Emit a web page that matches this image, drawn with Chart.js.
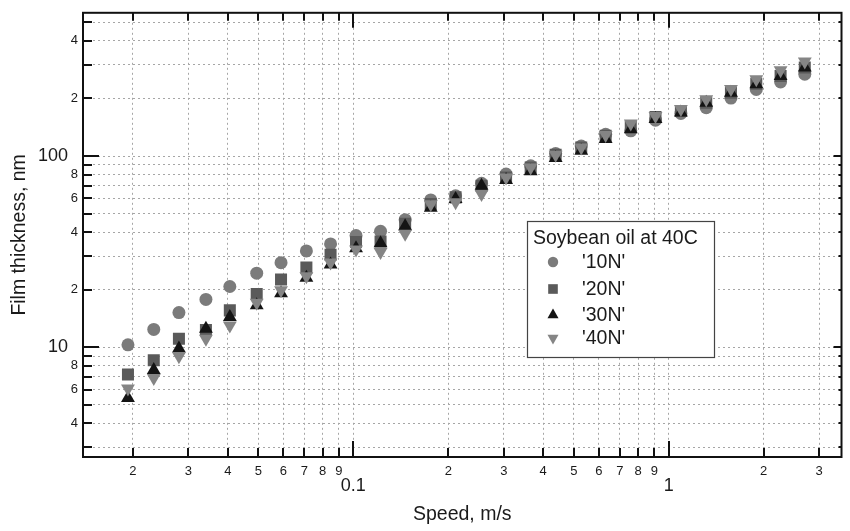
<!DOCTYPE html>
<html>
<head>
<meta charset="utf-8">
<script src="https://cdn.jsdelivr.net/npm/chart.js@4.4.1/dist/chart.umd.min.js"></script>
<style>
  html, body { margin: 0; padding: 0; background: #fff; }
</style>
</head>
<body>
<canvas id="film" width="850" height="531"></canvas>
<script>
// sliding speed, m/s
const speed = [0.0193, 0.0233, 0.0280, 0.0341, 0.0406, 0.0494, 0.0590, 0.0710, 0.0847, 0.102,
  0.122, 0.146, 0.176, 0.211, 0.255, 0.305, 0.365, 0.438, 0.528, 0.631,
  0.758, 0.908, 1.093, 1.315, 1.575, 1.895, 2.263, 2.70];

// film thickness, nm
const film10N = [10.3, 12.4, 15.2, 17.8, 20.8, 24.4, 27.7, 31.9, 34.7, 38.4,
  40.4, 46.5, 59, 62, 72, 80.5, 89, 103, 112.7, 130,
  135.5, 154, 167, 179, 201, 223, 244, 268];
const film20N = [7.2, 8.55, 11.1, 12.3, 15.6, 19.0, 22.6, 26.1, 30.5, 35.5,
  35.7, 44.2, 56.2, 60.8, 70.0, 77.3, 87.2, 101.6, 110.9, 127.7,
  142, 160, 172, 190, 214, 239, 262, 290];
const film30N = [5.44, 7.6, 9.85, 12.5, 14.4, 16.6, 19.2, 23.1, 27.1, 33,
  35, 43, 53.6, 59.6, 70.0, 74.9, 83.2, 97.6, 106.6, 122.7,
  138, 156, 169, 190, 214, 237, 262, 290];
const film40N = [6.09, 6.92, 8.98, 11.1, 13.0, 17.1, 19.9, 23.5, 27.8, 32.5,
  31.5, 39.2, 56, 57.3, 63.4, 77.3, 87.2, 101.6, 110.9, 129,
  148, 162, 176, 198, 224, 252, 281, 312];

const seriesNames = ["'10N'", "'20N'", "'30N'", "'40N'"];
const legendTitle = "Soybean oil at 40C";

const xTicks = [0.02, 0.03, 0.04, 0.05, 0.06, 0.07, 0.08, 0.09, 0.1,
  0.2, 0.3, 0.4, 0.5, 0.6, 0.7, 0.8, 0.9, 1, 2, 3];
const xTickLabels = ['2', '3', '4', '5', '6', '7', '8', '9', '0.1',
  '2', '3', '4', '5', '6', '7', '8', '9', '1', '2', '3'];
const yTicks = [3, 4, 5, 6, 7, 8, 9, 10, 20, 30, 40, 50, 60, 70, 80, 90, 100, 200, 300, 400, 500];
const yTickLabels = ['', '4', '', '6', '', '8', '', '10', '2', '', '4', '', '6', '', '8', '',
  '100', '2', '', '4', ''];

const FONT = "'Liberation Sans', Arial, Helvetica, sans-serif";

function isDecade(v) {
  const l = Math.log10(v);
  return Math.abs(l - Math.round(l)) < 1e-9;
}

function points(ys) {
  return speed.map((s, i) => ({ x: s, y: ys[i] }));
}

const styles = [
  { pointStyle: 'circle', color: '#7b7b7b', radius: 6.5, rotation: 0 },
  { pointStyle: 'rect', color: '#5a5a5a', radius: 8.5, rotation: 0 },
  { pointStyle: 'triangle', color: '#141414', radius: 8, rotation: 0 },
  { pointStyle: 'triangle', color: '#858585', radius: 8, rotation: 180 },
];

const datasets = [film10N, film20N, film30N, film40N].map((ys, i) => ({
  label: seriesNames[i],
  data: points(ys),
  pointStyle: styles[i].pointStyle,
  pointRadius: styles[i].radius,
  pointRotation: styles[i].rotation,
  backgroundColor: styles[i].color,
  borderColor: styles[i].color,
  borderWidth: 0,
  showLine: false,
  order: 4 - i,
}));

// frame, inward ticks on all four sides and the boxed legend
const frameTicks = {
  id: 'frameTicks',
  afterDatasetsDraw(chart) {
    const { ctx, chartArea: a, scales: { x, y } } = chart;
    ctx.save();
    ctx.strokeStyle = '#111';
    ctx.lineWidth = 2;
    ctx.beginPath();
    xTicks.forEach(v => {
      const px = Math.round(x.getPixelForValue(v));
      const big = isDecade(v);
      ctx.moveTo(px, a.bottom);
      ctx.lineTo(px, a.bottom - (big ? 16 : 9));
      ctx.moveTo(px, a.top);
      ctx.lineTo(px, a.top + (big ? 15 : 8));
    });
    yTicks.forEach(v => {
      const py = Math.round(y.getPixelForValue(v));
      const big = isDecade(v);
      ctx.moveTo(a.left, py);
      ctx.lineTo(a.left + (big ? 16 : 9), py);
      ctx.moveTo(a.right, py);
      ctx.lineTo(a.right - (big ? 8 : 3), py);
    });
    ctx.stroke();
    ctx.strokeRect(a.left, a.top, a.right - a.left, a.bottom - a.top);
    ctx.restore();
  },
  afterDraw(chart) {
    const ctx = chart.ctx;
    const bx = 527, by = 221, bw = 187, bh = 136;
    ctx.save();
    ctx.fillStyle = '#fff';
    ctx.fillRect(bx, by, bw, bh);
    ctx.strokeStyle = '#444';
    ctx.lineWidth = 1.2;
    ctx.strokeRect(bx + 0.5, by + 0.5, bw, bh);
    ctx.fillStyle = '#1a1a1a';
    ctx.font = '19.5px ' + FONT;
    ctx.textBaseline = 'middle';
    ctx.textAlign = 'left';
    ctx.fillText(legendTitle, bx + 6, by + 18);
    const rows = [262, 289, 315, 338];
    styles.forEach((s, i) => {
      ctx.fillStyle = s.color;
      ctx.strokeStyle = s.color;
      Chart.helpers.drawPoint(ctx, {
        pointStyle: s.pointStyle,
        radius: s.radius * 0.8,
        rotation: s.rotation,
        borderWidth: 0,
      }, 553, rows[i]);
      ctx.fillStyle = '#1a1a1a';
      ctx.fillText(seriesNames[i], 582, rows[i] + 1);
    });
    ctx.restore();
  }
};

new Chart(document.getElementById('film'), {
  type: 'scatter',
  data: { datasets },
  options: {
    responsive: false,
    animation: false,
    devicePixelRatio: 1,
    layout: { padding: { top: 12, right: 1, left: 0, bottom: 0 } },
    plugins: { legend: { display: false }, tooltip: { enabled: false } },
    scales: {
      x: {
        type: 'logarithmic',
        min: 0.0139,
        max: 3.53,
        afterBuildTicks: s => { s.ticks = xTicks.map(v => ({ value: v, major: isDecade(v) })); },
        afterFit: s => { s.height = 74; },
        grid: { color: '#a6a6a6', lineWidth: 1, drawTicks: false },
        border: { display: false, dash: [2, 3] },
        ticks: {
          autoSkip: false,
          maxRotation: 0,
          padding: 7,
          color: '#1a1a1a',
          font: c => (c.tick && isDecade(c.tick.value))
            ? { family: FONT, size: 18, lineHeight: 0.8 }
            : { family: FONT, size: 13 },
          callback: (v, i) => isDecade(xTicks[i]) ? ['', xTickLabels[i]] : xTickLabels[i],
        },
        title: {
          display: true,
          text: 'Speed, m/s',
          color: '#1a1a1a',
          font: { family: FONT, size: 19.5 },
          padding: { top: 0, bottom: 5 },
        },
      },
      y: {
        type: 'logarithmic',
        min: 2.67,
        max: 561,
        afterBuildTicks: s => { s.ticks = yTicks.map(v => ({ value: v, major: isDecade(v) })); },
        afterFit: s => { s.width = 83; },
        grid: { color: '#a6a6a6', lineWidth: 1, drawTicks: false },
        border: { display: false, dash: [2, 3] },
        ticks: {
          autoSkip: false,
          padding: 5,
          color: '#1a1a1a',
          font: c => (c.tick && isDecade(c.tick.value))
            ? { family: FONT, size: 18 }
            : { family: FONT, size: 13 },
          callback: (v, i) => isDecade(yTicks[i]) ? yTickLabels[i] + '  ' : yTickLabels[i],
        },
        title: {
          display: true,
          text: 'Film thickness, nm',
          color: '#1a1a1a',
          font: { family: FONT, size: 19.5 },
          padding: { top: 8, bottom: 0 },
        },
      },
    },
  },
  plugins: [frameTicks],
});
</script>
</body>
</html>
